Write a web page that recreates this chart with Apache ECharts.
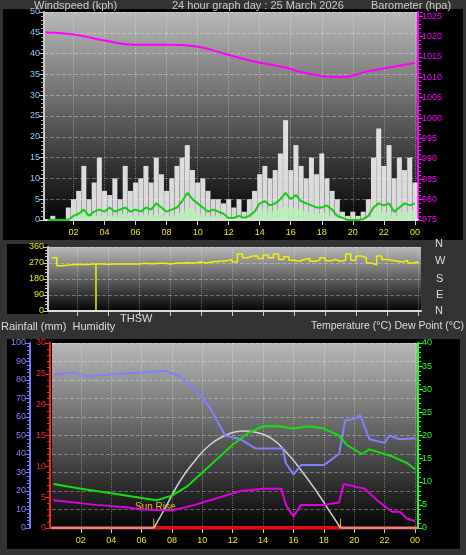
<!DOCTYPE html>
<html><head><meta charset="utf-8">
<script src="https://cdn.jsdelivr.net/npm/echarts@6/dist/echarts.min.js"></script>
<style>html,body{margin:0;padding:0;background:#333;}#c{width:466px;height:555px;}</style>
</head><body><div id="c"></div>
<script>
// 20 minute steps from 00:20 to 24:00
var gust = [0,1,0, 0,3,5, 7,13,5, 9,15,7, 6,10,5, 13,7,9, 10,13,9, 15,11,7, 10,13,15, 18,12,9,
  10,7,5, 5,4,5, 3,5,2, 5,7,11, 13,10,12, 16,24,12, 18,13,10, 15,11,16, 10,7,5, 2,1,2, 1,2,5,
  15,22,13, 18,10,15, 12,15,9];
var windAvg = [0,0,0, 0,0,1, 1.5,2.5,1, 2,2.5,2, 3,2,2.5, 3,2,2.5, 2,3,2.5, 4,3,2, 2.5,3,4.5,
  6.5,5,4, 3,2,2.5, 2,1.5,0.5, 0.5,1,0.5, 1,2,4, 4.5,3.5,4, 5,6.5,5, 6,4.5,4, 3.5,3,3, 3.5,2.5,1,
  0.5,0,0, 0,0.2,1, 3,4,3.5, 4,2,3, 4,3.5,4];
var windLull = [0,0,0, 0,0,0.5, 1,1.5,1, 1,1,1, 1,1,1.5, 1.5,1,1, 1,1.5,1, 1.5,1,1, 1,1.5,2,
  3,3,2, 1.5,1,1, 1,0.5,0, 0,0.5,0, 0.5,1,2, 3,2,2.5, 3,3,3, 3,2.5,2, 2,1.5,1.5, 2,1,0.5,
  0,0,0, 0,0,0.5, 1.5,3,2, 2,1,2, 2,2,2.5];
var windDir = [300,255,258, 260,262,262, 262,265,265, 265,262,265, 265,265,265, 265,265,268,
  266,266,268, 268,265,268, 270,272,270, 272,275,270, 275,278,280, 282,290,275, 320,300,310,
  310,295,315, 300,320,290, 305,285,280, 290,295,280, 285,300,282, 290,280,285, 320,285,310,
  300,270,260, 310,290,285, 280,275,285, 270,275,268];
var baroT = [0.2,2,4,6,8,10,11.5,13.5,15.5,17,19.2,21,22.5,24];
var baro = [1021,1020.5,1019,1018,1018,1017.5,1016,1014,1012.5,1011,1010,1011.5,1012.5,1013.5];

var humT = [0.2,1.5,2.5,4,6,7.5,8.5,9.5,10.5,11.5,12.5,13.5,15.3,15.5,16,16.5,18,19,19.4,20,20.4,21,22,22.3,23,24];
var humidity = [83,84,82,83,84,85,82,75,65,50,48,43,43,35,29,34,34,40,58,59,61,48,46,50,48,48.5];
var tempT = [0.2,2,4,6,7,8,9,10,11,12,13,14,15,16,17,18,19,19.5,20.5,21,22.5,23.5,24];
var temperature = [9.5,8.5,7.5,6.5,6,7,9,12,15,18,20.5,22,22,21.5,22,21.5,20,18,16,17,15.5,14,12.7];
var dewT = [0.2,3,5,6,8,9.5,11,12.5,14,15.2,15.5,16,16.5,18,19,19.3,20,20.7,21.5,22.5,23,23.5,24];
var dewPoint = [6,5,4.5,4,3.8,5,6.5,8,8.5,8.5,5,2.5,5,5,5.5,9.5,9,8.5,6,3.5,3.5,2,1.5];
var solarT = [6.8,7.5,8.5,9.5,10.5,11.5,12.2,12.8,13.5,14.5,15.5,16.5,17.5,18.5,19.1];
var solar = [0,4,10,14.5,18,20,20.8,21,20.7,19.5,16.5,12.5,8,3,0];
var sunRise = 6.8, sunSet = 19.1;
var hourTicks = [2,4,6,8,10,12,14,16,18,20,22,24];

function pts(t, v) { return t.map(function (x, i) { return [x, v[i]]; }); }
function stepT(i) { return (i + 1) / 3; }
var gustData = gust.map(function (v, i) { return [stepT(i), v]; });
var avgData = windAvg.map(function (v, i) { return [stepT(i), v]; });
var lullData = windLull.map(function (v, i) { return [stepT(i), v]; });
var dirData = windDir.map(function (v, i) { return [stepT(i), v]; });

var bg = { type: 'linear', x: 0, y: 0, x2: 0, y2: 1,
  colorStops: [{ offset: 0, color: '#b8b8b8' }, { offset: 1, color: '#050505' }] };
var grid1 = { left: 44, top: 12, width: 374, height: 208, show: true, backgroundColor: bg, borderWidth: 0 };
var grid2 = { left: 48, top: 247, width: 373, height: 64, show: true, backgroundColor: bg, borderWidth: 0 };
var grid3 = { left: 52, top: 343, width: 366, height: 185, show: true, backgroundColor: bg, borderWidth: 0 };

var font = 'Liberation Sans';
function xAxis(g, showLabels) {
  return { type: 'value', gridIndex: g, min: 0.1, max: 24.2,
    axisLine: { show: true, lineStyle: { color: '#ddd', width: 2 } },
    axisTick: { show: true, customValues: hourTicks, lineStyle: { color: '#ccc' } },
    axisLabel: { show: showLabels, customValues: hourTicks, color: '#e8e800', fontSize: 9, fontFamily: font,
      formatter: function (v) { var h = v % 24; return (h < 10 ? '0' : '') + h; } },
    splitLine: { show: true, lineStyle: { color: 'rgba(255,255,255,0.35)', type: 'dotted' } } };
}
function yAxis(g, o) {
  var base = { type: 'value', gridIndex: g,
    axisLine: { show: true, lineStyle: { color: o.line || '#ccc', width: 2 } },
    axisTick: { show: true, lineStyle: { color: o.line || '#ccc' } },
    minorTick: { show: true, splitNumber: 5, lineStyle: { color: o.line || '#aaa' } },
    axisLabel: { color: o.color, fontSize: 9, fontFamily: font, margin: 4, formatter: function (v) { return String(v); } },
    splitLine: { show: !!o.split, lineStyle: { color: 'rgba(255,255,255,0.3)', type: 'dashed' } } };
  for (var k in o) if (['line','color','split'].indexOf(k) < 0) base[k] = o[k];
  return base;
}

var chart = echarts.init(document.getElementById('c'));
chart.setOption({
  backgroundColor: '#333',
  animation: false,
  grid: [grid1, grid2, grid3],
  xAxis: [xAxis(0, true), xAxis(1, false), xAxis(2, true)],
  yAxis: [
    yAxis(0, { min: 0, max: 50, interval: 5, position: 'left', color: '#7fd0ff', split: true }),
    yAxis(0, { min: 975, max: 1026, interval: 5, position: 'right', color: '#ff00ff', line: '#ff00ff' }),
    yAxis(1, { min: 0, max: 360, interval: 90, position: 'left', color: '#e8e800', line: '#ccc', split: true }),
    yAxis(2, { min: 0, max: 100, interval: 10, position: 'left', color: '#8080ff', line: '#7777ff', offset: 22, split: true }),
    yAxis(2, { min: 0, max: 30, interval: 5, position: 'left', color: '#ff2020', line: '#ff2020', offset: 2 }),
    yAxis(2, { min: 0, max: 40, interval: 5, position: 'right', color: '#20ff20', line: '#20ff20' })
  ],
  series: [
    { type: 'bar', xAxisIndex: 0, yAxisIndex: 0, data: gustData, barWidth: 5,
      itemStyle: { color: 'rgba(240,240,240,0.9)' } },
    { type: 'line', xAxisIndex: 0, yAxisIndex: 0, data: lullData, step: 'middle', symbol: 'none',
      lineStyle: { width: 0 }, areaStyle: { color: '#b8f0b8', opacity: 0.85 } },
    { type: 'line', xAxisIndex: 0, yAxisIndex: 0, data: avgData, symbol: 'none',
      lineStyle: { color: '#10d010', width: 2 } },
    { type: 'line', xAxisIndex: 0, yAxisIndex: 1, data: pts(baroT, baro), smooth: true, symbol: 'none',
      lineStyle: { color: '#ff00ff', width: 2 } },
    { type: 'line', xAxisIndex: 1, yAxisIndex: 2, data: dirData, step: 'end', symbol: 'none',
      lineStyle: { color: '#f0f000', width: 1.5 } },
    { type: 'line', xAxisIndex: 1, yAxisIndex: 2, data: [[3.2, 0], [3.2, 265]], symbol: 'none',
      lineStyle: { color: '#f0f000', width: 1.5 } },
    { type: 'line', xAxisIndex: 2, yAxisIndex: 4, data: [[0.1, 0], [24.2, 0]], symbol: 'none',
      lineStyle: { color: '#f08080', width: 3 } },
    { type: 'line', xAxisIndex: 2, yAxisIndex: 4, data: [[sunRise, 0], [sunSet, 0]], symbol: 'none',
      lineStyle: { color: '#ff0000', width: 3 } },
    { type: 'line', xAxisIndex: 2, yAxisIndex: 5, data: pts(solarT, solar), smooth: true, symbol: 'none',
      lineStyle: { color: '#d0d0d0', width: 1.5 } },
    { type: 'line', xAxisIndex: 2, yAxisIndex: 3, data: pts(humT, humidity), symbol: 'none',
      lineStyle: { color: '#8080ff', width: 2 } },
    { type: 'line', xAxisIndex: 2, yAxisIndex: 5, data: pts(tempT, temperature), symbol: 'none',
      lineStyle: { color: '#10e010', width: 2 } },
    { type: 'line', xAxisIndex: 2, yAxisIndex: 5, data: pts(dewT, dewPoint), symbol: 'none',
      lineStyle: { color: '#e000e0', width: 2 } },
    { type: 'line', xAxisIndex: 2, yAxisIndex: 3, data: [[sunRise, 0], [sunRise, 5]], symbol: 'none',
      lineStyle: { color: '#e0c000', width: 1 } },
    { type: 'line', xAxisIndex: 2, yAxisIndex: 3, data: [[sunSet, 0], [sunSet, 5]], symbol: 'none',
      lineStyle: { color: '#e0c000', width: 1 } }
  ],
  graphic: [
    { type: 'rect', shape: { x: 3, y: 9, width: 460, height: 231 }, z: -1, style: { fill: '#000' } },
    { type: 'rect', shape: { x: 7, y: 244, width: 41, height: 70 }, z: -1, style: { fill: '#000' } },
    { type: 'rect', shape: { x: 7, y: 339, width: 453, height: 210 }, z: -1, style: { fill: '#000' } },
    { type: 'text', left: 34, top: 0, style: { text: 'Windspeed (kph)', fill: '#ccc', font: '11px ' + font } },
    { type: 'text', left: 172, top: 0, style: { text: '24 hour graph day : 25 March 2026', fill: '#ccc', font: '11px ' + font } },
    { type: 'text', left: 371, top: 0, style: { text: 'Barometer (hpa)', fill: '#ccc', font: '11px ' + font } },
    { type: 'text', left: 435, top: 238, style: { text: 'N', fill: '#ddd', font: '11px ' + font } },
    { type: 'text', left: 435, top: 255, style: { text: 'W', fill: '#ddd', font: '11px ' + font } },
    { type: 'text', left: 436, top: 273, style: { text: 'S', fill: '#ddd', font: '11px ' + font } },
    { type: 'text', left: 436, top: 289, style: { text: 'E', fill: '#ddd', font: '11px ' + font } },
    { type: 'text', left: 435, top: 305, style: { text: 'N', fill: '#ddd', font: '11px ' + font } },
    { type: 'text', left: 120, top: 313, style: { text: 'THSW', fill: '#ddd', font: '11px ' + font } },
    { type: 'text', left: 1, top: 321, style: { text: 'Rainfall (mm)  Humidity', fill: '#ddd', font: '11px ' + font } },
    { type: 'text', right: 2, top: 321, style: { text: 'Temperature (\u00b0C) Dew Point (\u00b0C)', fill: '#ddd', font: '10.5px ' + font } },
    { type: 'text', left: 135, top: 502, style: { text: 'Sun Rise', fill: '#d8c000', font: '10px ' + font } }
  ]
});
</script></body></html>
